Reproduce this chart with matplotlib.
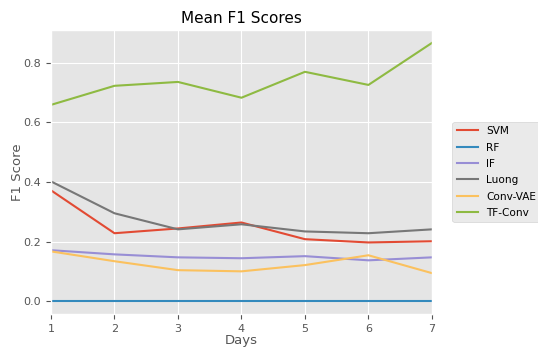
import matplotlib
matplotlib.use("Agg")
import matplotlib.pyplot as plt

plt.style.use("ggplot")

days = [1, 2, 3, 4, 5, 6, 7]
svm = [0.372, 0.228, 0.244, 0.264, 0.208, 0.197, 0.201]
rf = [0.0, 0.0, 0.0, 0.0, 0.0, 0.0, 0.0]
iforest = [0.171, 0.157, 0.147, 0.144, 0.151, 0.137, 0.147]
luong = [0.402, 0.295, 0.241, 0.258, 0.234, 0.228, 0.241]
conv_vae = [0.167, 0.134, 0.104, 0.100, 0.121, 0.154, 0.094]
tf_conv = [0.659, 0.723, 0.736, 0.683, 0.770, 0.726, 0.867]

series = [
    ("SVM", svm, "#E24A33"),
    ("RF", rf, "#348ABD"),
    ("IF", iforest, "#988ED5"),
    ("Luong", luong, "#777777"),
    ("Conv-VAE", conv_vae, "#FBC15E"),
    ("TF-Conv", tf_conv, "#8EBA42"),
]

fig = plt.figure(figsize=(5.38, 3.47), dpi=100)
ax = fig.add_axes([0.0948, 0.095, 0.708, 0.8185])
for name, vals, color in series:
    ax.plot(days, vals, label=name, color=color, linewidth=1.5)

ax.set_xlim(1, 7)
ax.set_xticks(days)
ax.set_yticks([0.0, 0.2, 0.4, 0.6, 0.8])
ax.set_title("Mean F1 Scores", fontsize=11, pad=5)
ax.set_xlabel("Days", fontsize=9.5, labelpad=0)
ax.set_ylabel("F1 Score", fontsize=9.5, labelpad=0)
ax.tick_params(labelsize=8)
ax.legend(loc="center left", bbox_to_anchor=(1.04, 0.5), fontsize=7.6,
          labelspacing=0.6)

fig.savefig("out.png", dpi=100)
